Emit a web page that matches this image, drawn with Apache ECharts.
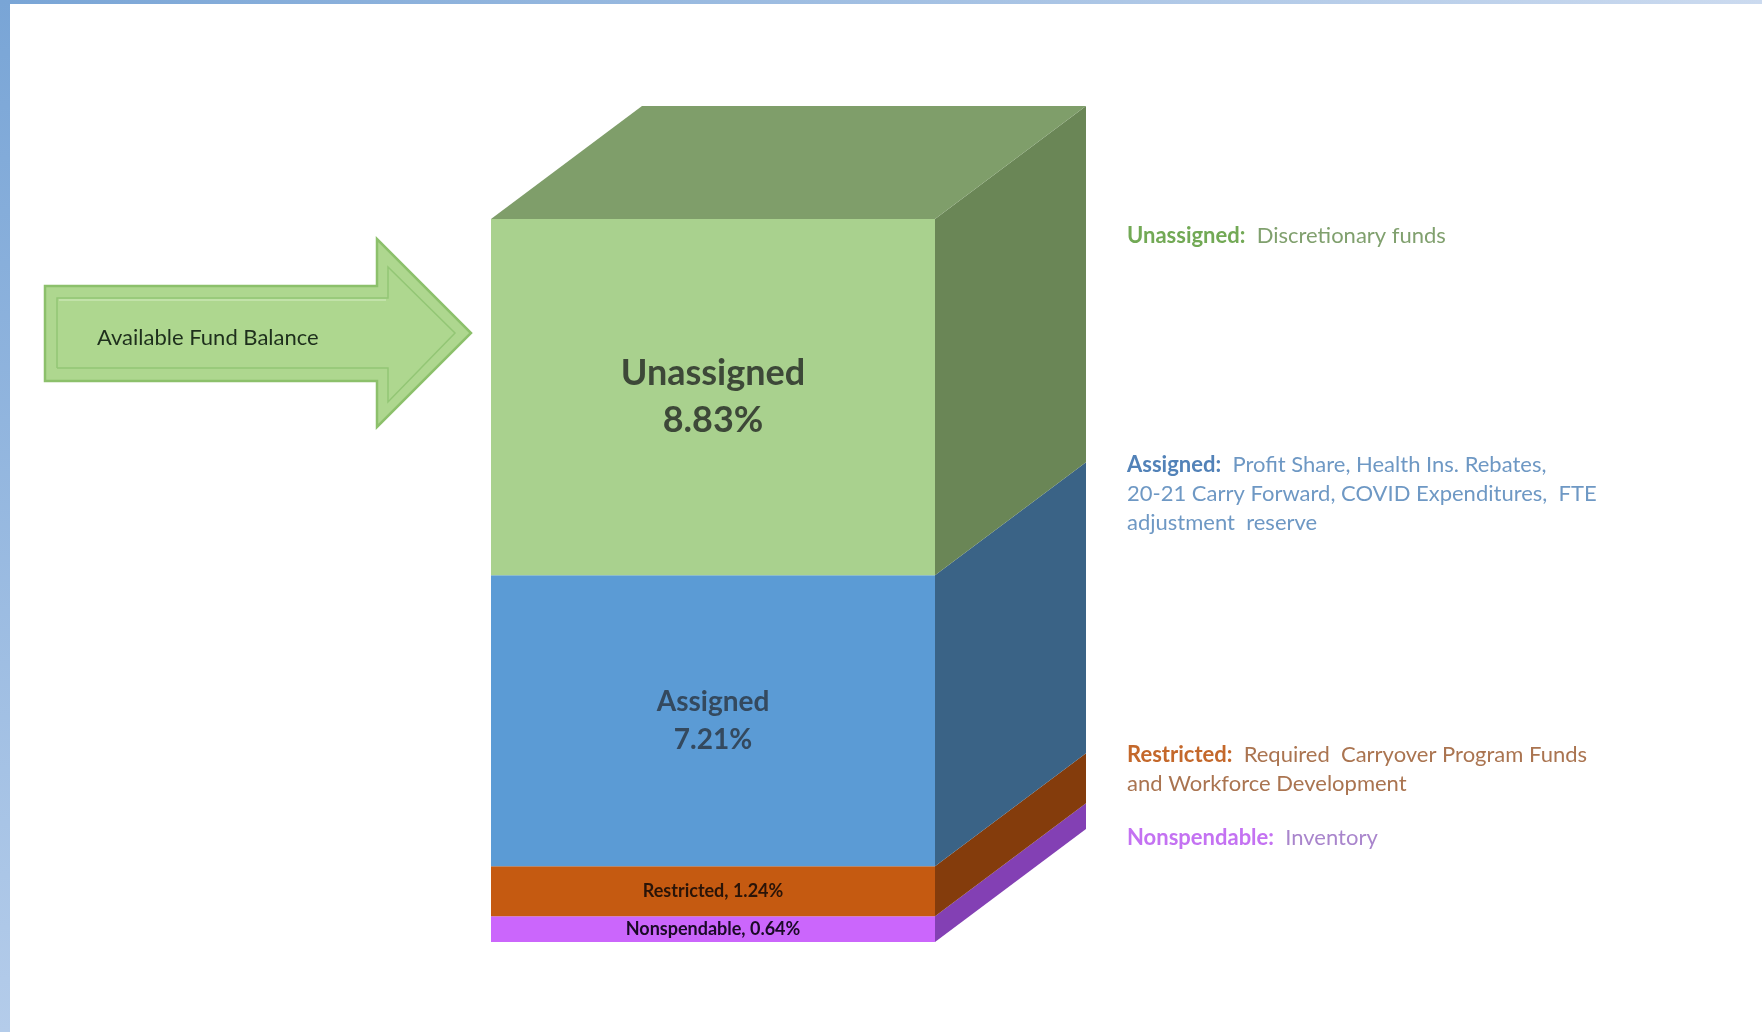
<!DOCTYPE html>
<html>
<head>
<meta charset="utf-8">
<title>Fund Balance</title>
<script src="https://cdn.jsdelivr.net/npm/echarts@6/dist/echarts.min.js"></script>
<style>
    html, body { margin: 0; padding: 0; background: #fff; }
    #chart { width: 1762px; height: 1032px; }
</style>
</head>
<body>
<div id="chart"></div>
<script>
    // data, bottom to top
    const categories = ['Fund Balance'];
    const segmentNames = ['Nonspendable', 'Restricted', 'Assigned', 'Unassigned'];
    const segmentValues = [0.64, 1.24, 7.21, 8.83];

    const noteHeads = ['Unassigned:', 'Assigned:', 'Restricted:', 'Nonspendable:'];
    const noteLines = [
        ['  Discretionary funds'],
        ['  Profit Share, Health Ins. Rebates,', '20-21 Carry Forward, COVID Expenditures,  FTE', 'adjustment  reserve'],
        ['  Required  Carryover Program Funds', 'and Workforce Development'],
        ['  Inventory']
    ];
    const arrowText = 'Available Fund Balance';

    // styles
    const FONT = 'Lato, "Open Sans", sans-serif';
    const frontColors = ['#CB66FC', '#C55A11', '#5B9BD5', '#A9D18E'];
    const sideColors = ['#8340B4', '#843C0C', '#3A6386', '#6A8656'];
    const topColor = '#7F9E6A';
    const labelColors = ['#1a0a26', '#2a1408', '#34495e', '#3d4838'];
    const labelSizes = [18, 18, 28, 36];
    const labelLineHeights = [22, 22, 38, 47];
    const noteHeadColors = ['#72A955', '#5282B8', '#C4682B', '#C472F2'];
    const noteTextColors = ['#80A06E', '#6E98C4', '#AA7450', '#A985CC'];
    const DX = 151, DY = 113;

    const chart = echarts.init(document.getElementById('chart'), null, { renderer: 'canvas' });

    function buildSegments() {
        let acc = 0;
        return segmentValues.map(function (v, i) {
            const item = { value: [0, acc, acc + v, i], name: segmentNames[i] };
            acc += v;
            return item;
        });
    }

    function segmentLabel(i) {
        const v = segmentValues[i].toFixed(2) + '%';
        if (segmentValues[i] > 5) return segmentNames[i] + '\n' + v;
        return segmentNames[i] + ', ' + v;
    }

    function renderSegment(params, api) {
        const lo = api.value(1), hi = api.value(2), i = api.value(3);
        const pLo = api.coord([api.value(0), lo]);
        const pHi = api.coord([api.value(0), hi]);
        const w = api.size([1, 0])[0];
        const left = pLo[0] - w / 2, right = pLo[0] + w / 2;
        const yTop = pHi[1], yBot = pLo[1];

        const children = [
            {
                type: 'rect',
                shape: { x: left, y: yTop, width: w, height: yBot - yTop },
                style: { fill: frontColors[i] }
            },
            {
                type: 'polygon',
                shape: { points: [[right, yTop], [right + DX, yTop - DY], [right + DX, yBot - DY], [right, yBot]] },
                style: { fill: sideColors[i] }
            },
            {
                type: 'text',
                x: (left + right) / 2,
                y: (yTop + yBot) / 2,
                style: {
                    text: segmentLabel(i),
                    fill: labelColors[i],
                    font: 'bold ' + labelSizes[i] + 'px ' + FONT,
                    lineHeight: labelLineHeights[i],
                    align: 'center',
                    verticalAlign: 'middle'
                }
            }
        ];
        if (i === segmentValues.length - 1) {
            children.push({
                type: 'polygon',
                shape: { points: [[left, yTop], [left + DX, yTop - DY], [right + DX, yTop - DY], [right, yTop]] },
                style: { fill: topColor }
            });
        }
        return { type: 'group', children: children };
    }

    function buildNotes() {
        const tops = [221, 450, 740, 823];
        return noteHeads.map(function (head, i) {
            let text = '{h|' + head + '}{t|' + noteLines[i][0] + '}';
            for (let k = 1; k < noteLines[i].length; k++) text += '\n{t|' + noteLines[i][k] + '}';
            return {
                type: 'text',
                x: 1127,
                y: tops[i],
                style: {
                    text: text,
                    font: '22px ' + FONT,
                    lineHeight: 29,
                    verticalAlign: 'top',
                    rich: {
                        h: { fill: noteHeadColors[i], fontWeight: 'bold', fontSize: 22, fontFamily: FONT, lineHeight: 29 },
                        t: { fill: noteTextColors[i], fontSize: 22, fontFamily: FONT, lineHeight: 29 }
                    }
                }
            };
        });
    }

    function buildArrow() {
        return [
            {
                type: 'polygon',
                shape: { points: [[45, 286], [377, 286], [377, 239], [471, 333], [377, 427], [377, 381], [45, 381]] },
                style: { fill: '#AED78F', stroke: '#8CC06B', lineWidth: 2.5 }
            },
            {
                type: 'polyline',
                shape: { points: [[57, 368], [57, 298], [388, 298], [388, 267], [455, 333], [388, 402], [388, 368], [57, 368]] },
                style: { fill: null, stroke: '#93C675', lineWidth: 1.5 }
            },
            {
                type: 'polyline',
                shape: { points: [[59, 300], [386, 300]] },
                style: { stroke: '#C8E6B2', lineWidth: 1.5 }
            },
            {
                type: 'text',
                x: 97,
                y: 338,
                style: { text: arrowText, font: '22px ' + FONT, fill: '#1E2F1C', verticalAlign: 'middle' }
            }
        ];
    }

    function buildFrame() {
        return [
            {
                type: 'rect',
                shape: { x: 0, y: 0, width: 1762, height: 4 },
                style: { fill: new echarts.graphic.LinearGradient(0, 0, 1, 0, [
                    { offset: 0, color: '#79A5D6' },
                    { offset: 1, color: '#CBDAEF' }
                ]) }
            },
            {
                type: 'rect',
                shape: { x: 0, y: 0, width: 10, height: 1032 },
                style: { fill: new echarts.graphic.LinearGradient(0, 0, 0, 1, [
                    { offset: 0, color: '#79A5D6' },
                    { offset: 1, color: '#B4CCEA' }
                ]) }
            }
        ];
    }

    const total = segmentValues.reduce(function (a, b) { return a + b; }, 0);

    chart.setOption({
        animation: false,
        backgroundColor: '#ffffff',
        grid: { left: 491, right: 827, top: 219, bottom: 90 },
        xAxis: { type: 'category', data: categories, show: false },
        yAxis: { type: 'value', min: 0, max: total, show: false },
        graphic: { elements: buildFrame().concat(buildArrow(), buildNotes()) },
        series: [{
            type: 'custom',
            renderItem: renderSegment,
            encode: { x: 0, y: [1, 2] },
            data: buildSegments()
        }]
    });
</script>
</body>
</html>
